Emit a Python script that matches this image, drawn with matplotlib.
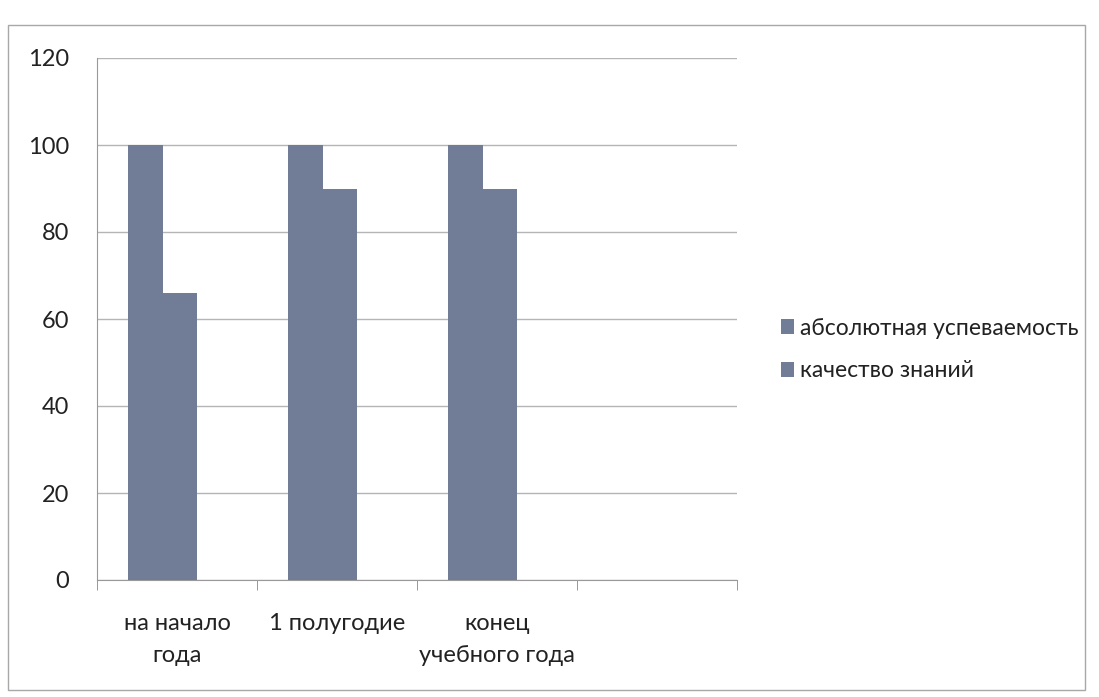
import matplotlib
matplotlib.use("Agg")
import matplotlib.pyplot as plt
import numpy as np

categories = ["на начало\nгода", "1 полугодие", "конец\nучебного года", ""]
series_names = ["абсолютная успеваемость", "качество знаний"]
abs_perf = [100, 100, 100, None]
quality = [66, 90, 90, None]
yticks = [0, 20, 40, 60, 80, 100, 120]

plt.rcParams['font.family'] = ['Lato', 'DejaVu Sans']
plt.rcParams['hatch.color'] = '#5f6b85'
plt.rcParams['hatch.linewidth'] = 0.8
fig = plt.figure(figsize=(10.99, 6.97), dpi=100)
# outer chart frame
fig.patches.append(plt.Rectangle((8/1099, 1-690/697), 1077/1099, 665/697,
                                 transform=fig.transFigure, fill=False,
                                 edgecolor='#a8a8a8', linewidth=1.0))
ax = fig.add_axes([97/1099, 1-580/697, 640/1099, 522/697])

n = len(categories)
x = np.arange(n)
w = 0.215
off = -0.09
color = '#717d97'
v1 = [v if v is not None else 0 for v in abs_perf]
v2 = [v if v is not None else 0 for v in quality]
b1 = ax.bar(x + off - w/2, v1, w, color=color, edgecolor='none', hatch='||',
            label=series_names[0], zorder=3)
b2 = ax.bar(x + off + w/2, v2, w, color=color, edgecolor='none', hatch='||',
            label=series_names[1], zorder=3)

ax.set_xlim(-0.5, n - 0.5)
ax.set_ylim(0, 120)
ax.set_yticks(yticks)
ax.set_yticklabels([str(t) for t in yticks], fontsize=17, color='#222222')
ax.tick_params(axis='y', length=0, pad=20)
ax.yaxis.grid(True, color='#b5b5b5', linewidth=1.0, zorder=0)
ax.set_axisbelow(True)

ax.set_xticks(x)
ax.set_xticklabels(categories, fontsize=17, color='#222222', linespacing=1.6)
ax.tick_params(axis='x', length=0, pad=24)
ax.set_xticks(np.arange(n + 1) - 0.5, minor=True)
ax.tick_params(axis='x', which='minor', length=7, direction='out', color='#888888')

for s in ['top', 'right']:
    ax.spines[s].set_visible(False)
ax.spines['left'].set_color('#999999')
ax.spines['bottom'].set_color('#999999')

leg = fig.legend(handles=[b1, b2], labels=series_names, loc='upper left',
                 bbox_to_anchor=(760/1099, 1-297/697), frameon=False,
                 fontsize=16.5, handlelength=0.6, handleheight=0.6,
                 handletextpad=0.25, labelspacing=0.95)
for t in leg.get_texts():
    t.set_color('#222222')

fig.savefig("out.png", dpi=100, facecolor='white')
